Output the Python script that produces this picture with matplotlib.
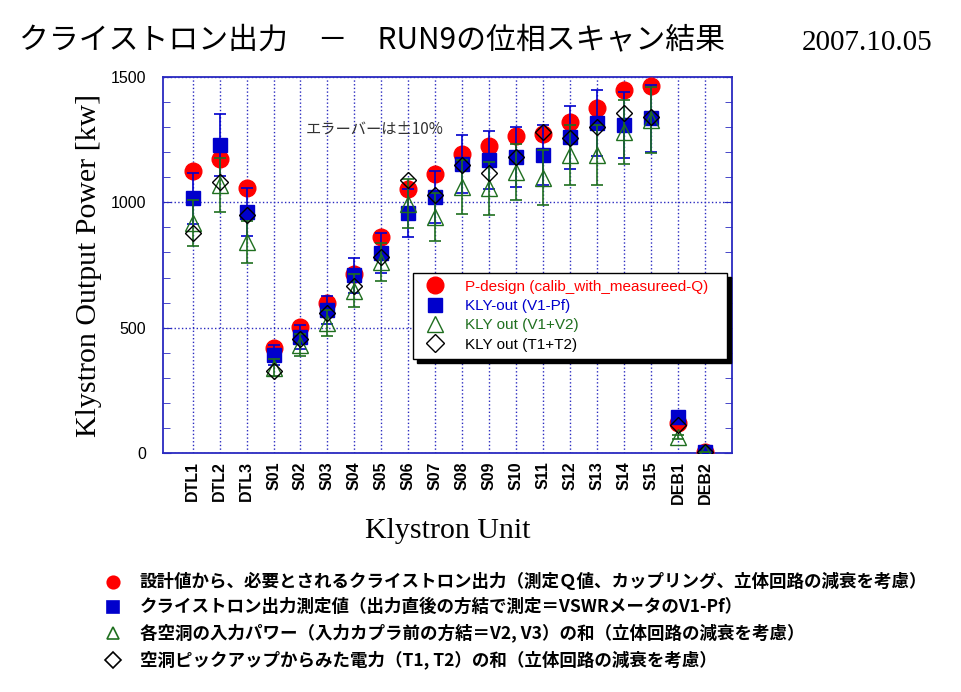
import numpy as np
import matplotlib
matplotlib.use("Agg")
import matplotlib.pyplot as plt
from matplotlib.ticker import MultipleLocator
from matplotlib.lines import Line2D

plt.rcParams['font.family'] = ['Liberation Sans', 'Noto Sans CJK JP', 'DejaVu Sans']

units = ['DTL1', 'DTL2', 'DTL3', 'S01', 'S02', 'S03', 'S04', 'S05', 'S06', 'S07',
         'S08', 'S09', 'S10', 'S11', 'S12', 'S13', 'S14', 'S15', 'DEB1', 'DEB2']
# kW
p_design = [1123, 1173, 1057, 417, 503, 598, 714, 862, 1053, 1113,
            1193, 1225, 1264, 1272, 1320, 1376, 1448, 1464, 120, 5]
kly_v1pf = [1017, 1228, 961, 391, 463, 570, 708, 798, 957, 1021,
            1153, 1169, 1181, 1189, 1260, 1316, 1308, 1336, 144, 4]
kly_v1v2 = [917, 1069, 842, 340, 431, 518, 648, 762, 995, 941,
            1061, 1057, 1121, 1097, 1189, 1189, 1280, 1328, 64, 3]
kly_t1t2 = [877, 1081, 949, 328, 455, 560, 665, 782, 1089, 1030,
            1149, 1117, 1181, 1280, 1256, 1300, 1356, 1340, 110, 4]
err_frac = 0.10
leg_labels = ['P-design (calib_with_measureed-Q)', 'KLY-out (V1-Pf)',
              'KLY out (V1+V2)', 'KLY out (T1+T2)']

red = '#ff0000'
blue = '#0000cc'
green = '#1f6f1f'
frame = '#2a2ac0'
cjk = ['Noto Sans CJK JP', 'DejaVu Sans']

fig = plt.figure(figsize=(9.62, 6.92), dpi=100)
ax = fig.add_axes([0.1694, 0.3454, 0.5915, 0.5434])

x = np.arange(1, len(units) + 1)
kv = np.array(kly_v1pf)
kt = np.array(kly_v1v2)

ax.plot(x, p_design, 'o', color=red, markersize=12, zorder=3)
ax.errorbar(x, kv, yerr=err_frac * kv, fmt='s', color=blue, ecolor=blue, markersize=10,
            elinewidth=1.2, capsize=4, capthick=1.2, zorder=4)
ax.errorbar(x, kt, yerr=err_frac * kt, fmt='^', color=green, mfc='none', mec=green, ecolor=green,
            markersize=12, elinewidth=1.2, capsize=4, capthick=1.2, zorder=5)
ax.plot(x, kly_t1t2, 'D', mfc='none', mec='black', markersize=8.5, mew=1.0, zorder=6)

ax.set_xlim(-0.1, 21.0)
ax.set_ylim(0, 1500)
ax.set_xticks(x)
ax.set_xticklabels(units, rotation=90, fontsize=11.5, fontweight='bold')
ax.tick_params(axis='x', length=0, pad=6)
ax.yaxis.set_major_locator(MultipleLocator(500))
ax.yaxis.set_minor_locator(MultipleLocator(100))
ax.tick_params(axis='y', which='both', direction='in', right=True, color=frame, labelsize=11.5, pad=12)
ax.tick_params(axis='y', which='major', length=6)
ax.tick_params(axis='y', which='minor', length=5)
for s in ax.spines.values():
    s.set_color(frame)
    s.set_linewidth(1.3)
ax.grid(True, axis='x', linestyle=':', color=frame, linewidth=1)
ax.grid(True, axis='y', which='major', linestyle=':', color=frame, linewidth=1)
ax.set_axisbelow(True)

ax.set_ylabel('Klystron Output Power [kw]', family='Liberation Serif', fontsize=21.5, labelpad=6)
ax.set_xlabel('Klystron Unit', family='Liberation Serif', fontsize=21.5, labelpad=10)

ax.text(0.25, 0.86, 'エラーバーは±10%', transform=ax.transAxes, fontsize=11,
        color='#333333', family=cjk, va='center')

handles = [Line2D([], [], marker='o', color=red, linestyle='none', markersize=12),
           Line2D([], [], marker='s', color=blue, linestyle='none', markersize=10),
           Line2D([], [], marker='^', mfc='none', mec=green, linestyle='none', markersize=12),
           Line2D([], [], marker='D', mfc='none', mec='black', linestyle='none', markersize=9)]
leg = ax.legend(handles, leg_labels, loc='upper left', bbox_to_anchor=(0.439, 0.247, 0.552, 0.232),
                mode='expand', fontsize=11, fancybox=False, edgecolor='black', framealpha=1,
                shadow={'color': 'black', 'alpha': 1, 'ox': 3, 'oy': -3},
                labelcolor=[red, blue, green, 'black'], handletextpad=1.0,
                borderpad=0.45, labelspacing=0.35, borderaxespad=0)
leg.get_frame().set_linewidth(1.0)

fig.text(0.02, 0.943, 'クライストロン出力　－　RUN9の位相スキャン結果', fontsize=21.5,
         family=cjk, va='center')
fig.text(0.969, 0.938, '2007.10.05', fontsize=21, family='Liberation Serif', va='center', ha='right')

notes = ['設計値から、必要とされるクライストロン出力（測定Ｑ値、カップリング、立体回路の減衰を考慮）',
         'クライストロン出力測定値（出力直後の方結で測定＝VSWRメータのV1-Pf）',
         '各空洞の入力パワー（入力カプラ前の方結＝V2, V3）の和（立体回路の減衰を考慮）',
         '空洞ピックアップからみた電力（T1, T2）の和（立体回路の減衰を考慮）']
note_y = [582, 607, 633, 660]
note_mk = [('o', red, red), ('s', blue, blue), ('^', 'none', green), ('D', 'none', 'black')]
for txt, py, (m, fc, ec) in zip(notes, note_y, note_mk):
    fy = 1 - py / 692
    fig.add_artist(Line2D([113 / 962], [fy], marker=m, markersize=9 if m != 'D' else 8,
                          mfc=fc, mec=ec, mew=1.2, linestyle='none', transform=fig.transFigure))
    fig.text(140 / 962, fy, txt, fontsize=12.6, fontweight='bold', family=cjk, va='center')

fig.savefig('out.png', dpi=100)
